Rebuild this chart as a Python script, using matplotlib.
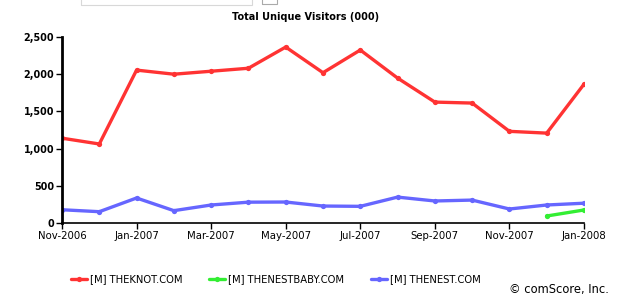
import matplotlib
matplotlib.use("Agg")
import matplotlib.pyplot as plt
from matplotlib.patches import Rectangle

months = ["Nov-2006", "Dec-2006", "Jan-2007", "Feb-2007", "Mar-2007", "Apr-2007",
          "May-2007", "Jun-2007", "Jul-2007", "Aug-2007", "Sep-2007", "Oct-2007",
          "Nov-2007", "Dec-2007", "Jan-2008"]
theknot = [1140, 1062, 2055, 2000, 2040, 2080, 2365, 2020, 2325, 1948, 1625, 1612, 1232, 1208, 1866]
thenestbaby = [None] * 13 + [94, 175]
thenest = [178, 152, 336, 166, 242, 280, 282, 228, 224, 348, 296, 308, 188, 242, 266]
series_names = ["[M] THEKNOT.COM", "[M] THENESTBABY.COM", "[M] THENEST.COM"]
colors = ["#ff3333", "#33ee33", "#6666ff"]
yticks = [0, 500, 1000, 1500, 2000, 2500]
ytick_labels = ["0", "500", "1,000", "1,500", "2,000", "2,500"]

fig = plt.figure(figsize=(6.21, 3.03), dpi=100)
ax = fig.add_axes([62 / 621, 1 - 223 / 303, (584 - 62) / 621, (223 - 37) / 303])

x = list(range(len(months)))
handles = []
for vals, col, name in zip([theknot, thenestbaby, thenest], colors, series_names):
    xs = [i for i, v in zip(x, vals) if v is not None]
    ys = [v for v in vals if v is not None]
    h, = ax.plot(xs, ys, color=col, lw=2.4, marker="o", ms=3.8,
                 markeredgewidth=0, solid_capstyle="round", label=name)
    handles.append(h)

ax.set_xlim(0, len(months) - 1)
ax.set_ylim(0, 2500)
ax.set_xticks(x[::2])
ax.set_xticklabels(months[::2], fontsize=7.3)
ax.set_yticks(yticks)
ax.set_yticklabels(ytick_labels, fontsize=6.9, fontweight="bold")
ax.tick_params(axis="both", direction="out", length=4, width=1, pad=1.5, color="black")
for s in ["top", "right"]:
    ax.spines[s].set_visible(False)
ax.spines["left"].set_linewidth(2)
ax.spines["bottom"].set_linewidth(1.2)

fig.text(305.5 / 621, 1 - 17 / 303, "Total Unique Visitors (000)", ha="center", va="center",
         fontsize=7.0, fontweight="bold")

leg = fig.legend(handles=handles, loc="center left", bbox_to_anchor=(71 / 621, 1 - 279 / 303),
                 ncol=3, frameon=False, fontsize=7.2, handlelength=1.6, handletextpad=0.35,
                 columnspacing=2.6, borderaxespad=0, borderpad=0)

fig.text(609 / 621, 1 - 290 / 303, "\u00a9 comScore, Inc.", ha="right", va="center", fontsize=8.3)

# partially visible control at the top
fig.patches.append(Rectangle((81 / 621, 1 - 5 / 303), (252 - 81) / 621, 10 / 303,
                             transform=fig.transFigure, fill=False, ec="#d8d8d8", lw=0.8))
fig.patches.append(Rectangle((262 / 621, 1 - 4 / 303), (277 - 262) / 621, 8 / 303,
                             transform=fig.transFigure, fill=False, ec="#aaaaaa", lw=0.8))

fig.savefig("out.png", dpi=100)
